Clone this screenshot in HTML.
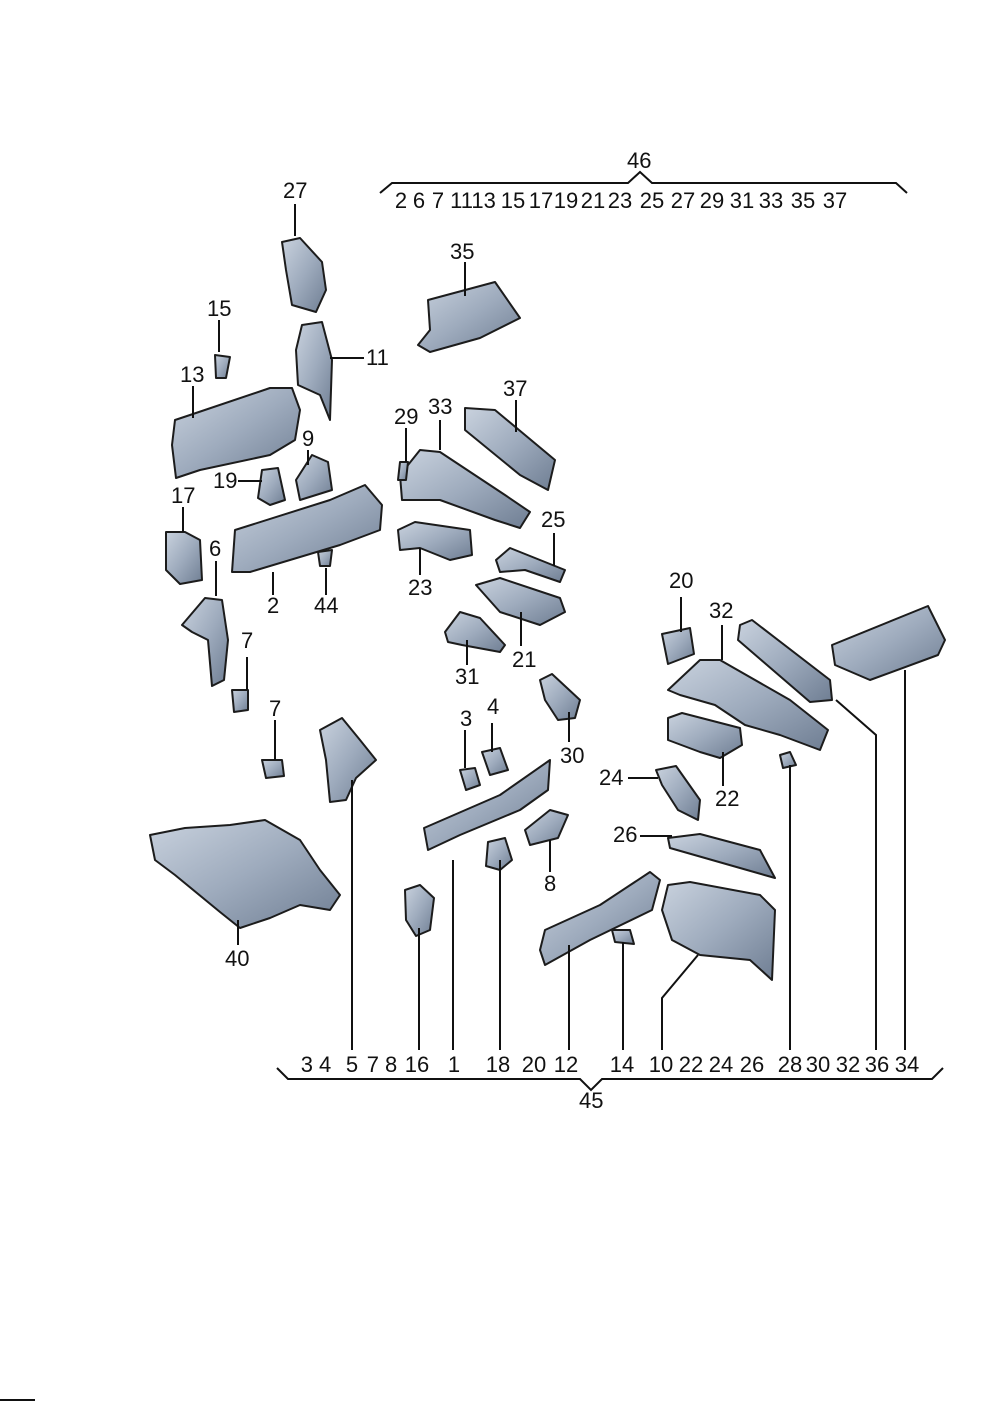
<!DOCTYPE html>
<html><head><meta charset="utf-8"><style>
html,body{margin:0;padding:0;background:#fff}
svg{display:block}
text{font-family:"Liberation Sans",sans-serif;font-size:22px;fill:#111}
.r text{text-anchor:middle}
.p{fill:url(#g);stroke:#1c1c1c;stroke-width:2;stroke-linejoin:round}
.l{stroke:#111;stroke-width:2;fill:none}
</style></head><body>
<svg width="992" height="1403" viewBox="0 0 992 1403">
<defs><linearGradient id="g" x1="0" y1="0" x2="1" y2="1">
<stop offset="0" stop-color="#c9d2de"/><stop offset="0.5" stop-color="#9eabbd"/><stop offset="1" stop-color="#6f7e93"/></linearGradient></defs>

<path class="l" d="M380,193 L392,183 L628,183 L640,172 L652,183 L896,183 L907,193"/>
<text x="627" y="168">46</text>
<g class="r">
<text x="401" y="208">2</text><text x="419" y="208">6</text><text x="438" y="208">7</text><text x="473" y="208">1113</text>
<text x="513" y="208">15</text><text x="541" y="208">17</text><text x="566" y="208">19</text><text x="593" y="208">21</text>
<text x="620" y="208">23</text><text x="652" y="208">25</text><text x="683" y="208">27</text><text x="712" y="208">29</text>
<text x="742" y="208">31</text><text x="771" y="208">33</text><text x="803" y="208">35</text><text x="835" y="208">37</text>
</g>

<path class="l" d="M277,1068 L288,1079 L580,1079 L591,1090 L602,1079 L932,1079 L943,1068"/>
<text x="579" y="1108">45</text>
<g class="r">
<text x="316" y="1072">3 4</text><text x="352" y="1072">5</text><text x="382" y="1072">7 8</text><text x="417" y="1072">16</text>
<text x="454" y="1072">1</text><text x="498" y="1072">18</text><text x="534" y="1072">20</text><text x="566" y="1072">12</text>
<text x="622" y="1072">14</text><text x="661" y="1072">10</text><text x="691" y="1072">22</text><text x="721" y="1072">24</text>
<text x="752" y="1072">26</text><text x="790" y="1072">28</text><text x="818" y="1072">30</text><text x="848" y="1072">32</text>
<text x="877" y="1072">36</text><text x="907" y="1072">34</text>
</g>

<path class="p" d="M282,242 L300,238 L322,262 L326,290 L316,312 L292,305 L286,270Z"/>
<path class="p" d="M302,325 L322,322 L332,360 L330,420 L320,395 L298,385 L296,350Z"/>
<path class="p" d="M215,355 L230,357 L226,378 L216,378Z"/>
<path class="p" d="M175,420 L190,415 L270,388 L292,388 L300,410 L295,440 L270,455 L200,470 L176,478 L172,445Z"/>
<path class="p" d="M262,470 L278,468 L285,500 L270,505 L258,498Z"/>
<path class="p" d="M296,480 L312,455 L328,462 L332,490 L300,500Z"/>
<path class="p" d="M166,532 L185,532 L200,540 L202,580 L180,584 L166,570Z"/>
<path class="p" d="M235,530 L330,500 L365,485 L382,505 L380,530 L340,545 L250,572 L232,572Z"/>
<path class="p" d="M318,552 L332,550 L330,566 L320,566Z"/>
<path class="p" d="M182,625 L205,598 L222,600 L228,640 L224,680 L212,686 L208,640 L192,632Z"/>
<path class="p" d="M232,690 L248,690 L248,710 L234,712Z"/>
<path class="p" d="M262,760 L282,760 L284,776 L266,778Z"/>
<path class="p" d="M320,730 L342,718 L360,740 L376,760 L356,778 L346,800 L330,802 L326,760Z"/>
<path class="p" d="M150,835 L185,828 L230,825 L265,820 L300,840 L320,870 L340,895 L330,910 L300,905 L270,918 L240,928 L220,912 L175,875 L155,860Z"/>
<path class="p" d="M428,300 L495,282 L520,318 L480,338 L430,352 L418,345 L430,330Z"/>
<path class="p" d="M465,408 L495,410 L555,460 L548,490 L520,475 L465,430Z"/>
<path class="p" d="M400,475 L420,450 L440,452 L505,495 L530,512 L520,528 L495,520 L440,500 L402,500Z"/>
<path class="p" d="M400,462 L408,462 L406,480 L398,480Z"/>
<path class="p" d="M398,530 L415,522 L470,530 L472,555 L450,560 L420,548 L400,550Z"/>
<path class="p" d="M496,560 L510,548 L565,570 L560,582 L525,570 L500,572Z"/>
<path class="p" d="M476,585 L500,578 L560,598 L565,612 L540,625 L500,612Z"/>
<path class="p" d="M445,632 L460,612 L480,618 L505,645 L500,652 L462,645 L448,642Z"/>
<path class="p" d="M540,680 L552,674 L580,700 L575,718 L558,720 L545,700Z"/>
<path class="p" d="M460,770 L475,768 L480,785 L466,790Z"/>
<path class="p" d="M482,752 L500,748 L508,770 L490,775Z"/>
<path class="p" d="M424,828 L500,795 L550,760 L548,790 L520,810 L460,835 L428,850Z"/>
<path class="p" d="M525,830 L550,810 L568,815 L558,838 L530,845Z"/>
<path class="p" d="M488,842 L505,838 L512,860 L500,870 L486,866Z"/>
<path class="p" d="M405,890 L420,885 L434,898 L430,930 L416,936 L406,920Z"/>
<path class="p" d="M545,930 L600,905 L650,872 L660,880 L652,910 L590,940 L545,965 L540,950Z"/>
<path class="p" d="M612,930 L630,930 L634,944 L615,942Z"/>
<path class="p" d="M668,885 L690,882 L760,895 L775,910 L772,980 L750,960 L700,955 L672,940 L662,910Z"/>
<path class="p" d="M668,838 L700,834 L760,850 L775,878 L740,868 L670,848Z"/>
<path class="p" d="M656,770 L676,766 L700,800 L698,820 L678,810 L662,785Z"/>
<path class="p" d="M668,718 L682,713 L740,728 L742,745 L720,758 L700,752 L668,740Z"/>
<path class="p" d="M662,634 L690,628 L694,654 L668,664Z"/>
<path class="p" d="M668,690 L700,660 L720,660 L790,700 L828,730 L820,750 L780,735 L745,725 L715,705 L680,695Z"/>
<path class="p" d="M740,625 L752,620 L830,680 L832,700 L810,702 L738,640Z"/>
<path class="p" d="M780,755 L790,752 L796,765 L783,768Z"/>
<path class="p" d="M832,645 L928,606 L945,640 L938,655 L870,680 L835,665Z"/>

<path class="l" d="M295,204 V236 M219,320 V352 M330,358 H364 M193,386 V418 M308,450 V465 M238,481 H262 M183,507 V532 M216,561 V596 M247,657 V690 M275,720 V760 M273,572 V595 M326,568 V595 M465,262 V296 M516,400 V432 M406,428 V462 M440,420 V450 M554,533 V566 M420,548 V575 M521,612 V646 M467,640 V665 M569,712 V742 M465,730 V768 M492,723 V752 M550,840 V872 M681,597 V632 M722,625 V660 M628,778 H658 M723,752 V786 M640,836 H672 M238,920 V945 M352,780 V1050 M419,928 V1050 M453,860 V1050 M500,860 V1050 M569,945 V1050 M623,942 V1050 M662,1050 V998 L698,955 M790,765 V1050 M836,700 L876,735 V1050 M905,670 V1050"/>

<text x="283" y="198">27</text>
<text x="207" y="316">15</text>
<text x="366" y="365">11</text>
<text x="180" y="382">13</text>
<text x="302" y="446">9</text>
<text x="213" y="488">19</text>
<text x="171" y="503">17</text>
<text x="209" y="556">6</text>
<text x="241" y="648">7</text>
<text x="269" y="716">7</text>
<text x="267" y="613">2</text>
<text x="314" y="613">44</text>
<text x="450" y="259">35</text>
<text x="503" y="396">37</text>
<text x="394" y="424">29</text>
<text x="428" y="414">33</text>
<text x="541" y="527">25</text>
<text x="408" y="595">23</text>
<text x="512" y="667">21</text>
<text x="455" y="684">31</text>
<text x="560" y="763">30</text>
<text x="460" y="726">3</text>
<text x="487" y="714">4</text>
<text x="544" y="891">8</text>
<text x="669" y="588">20</text>
<text x="709" y="618">32</text>
<text x="599" y="785">24</text>
<text x="715" y="806">22</text>
<text x="613" y="842">26</text>
<text x="225" y="966">40</text>

<line x1="0" y1="1400" x2="35" y2="1400" stroke="#111" stroke-width="2"/>
</svg>
</body></html>
